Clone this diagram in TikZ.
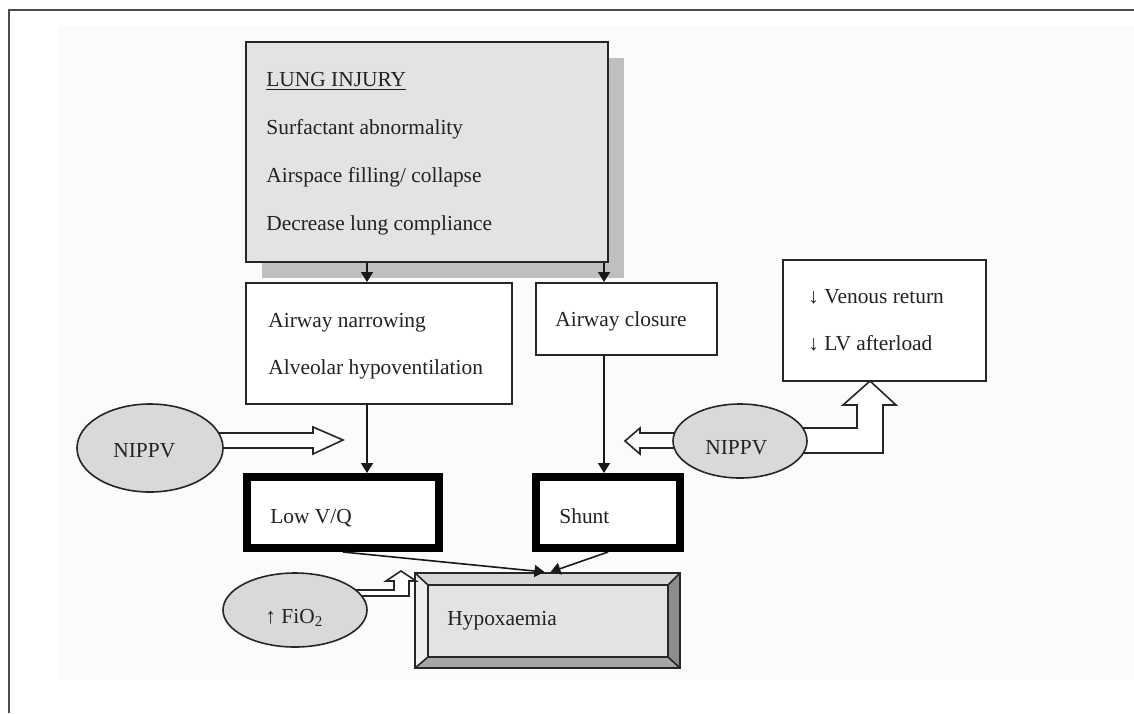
\documentclass[tikz,border=0pt]{standalone}
\usepackage{fontspec}
\setmainfont{Liberation Serif}
\usetikzlibrary{fit,arrows.meta,shapes.geometric}
\definecolor{bgc}{HTML}{FBFBFB}
\definecolor{boxgray}{HTML}{E3E3E3}
\definecolor{shadowgray}{HTML}{BFBFBF}
\definecolor{ellgray}{HTML}{D9D9D9}
\definecolor{txt}{HTML}{222222}
\definecolor{bevtop}{HTML}{D6D6D6}
\definecolor{bevleft}{HTML}{EEEEEE}
\definecolor{bevright}{HTML}{8C8C8C}
\definecolor{bevbot}{HTML}{A6A6A6}
\tikzset{
  every node/.style={font=\fontsize{10.7}{12}\selectfont, text=txt},
  plainbox/.style={draw=black!85, line width=1pt, inner sep=0pt, fill=white},
  thickbox/.style={draw=black, line width=4pt, inner sep=0pt, fill=white},
  lbl/.style={anchor=base west, inner sep=0pt},
  arr/.style={draw=black!90, line width=0.8pt, -{Triangle[length=5pt,width=6pt]}},
  blockarrow/.style={draw=black!85, line width=0.8pt, fill=white},
  ellnode/.style={ellipse, draw=black!85, line width=0.8pt, fill=ellgray, inner sep=0pt},
}
\begin{document}
\begin{tikzpicture}[x=0.5pt,y=-0.5pt]
\useasboundingbox (0,0) rectangle (1134,713);
% background and frame
\fill[bgc] (58,26) rectangle (1134,680);
\draw[black!70, line width=1pt] (9,713) -- (9,10) -- (1134,10);

% lung injury box with shadow
\fill[shadowgray] (262,58) rectangle (624,278);
\node[plainbox, fill=boxgray, fit={(246,42)(608,262)}] (lung) {};
\node[lbl] (t1) at (266,86) {\underline{LUNG INJURY}};
\node[lbl] (t2) at (266,134) {Surfactant abnormality};
\node[lbl] (t3) at (266,182) {Airspace filling/ collapse};
\node[lbl] (t4) at (266,230) {Decrease lung compliance};

% second row
\node[plainbox, fit={(246,283)(512,404)}] (nar) {};
\node[lbl] (t5) at (268,327) {Airway narrowing};
\node[lbl] (t6) at (268,374) {Alveolar hypoventilation};

\node[plainbox, fit={(536,283)(717,355)}] (clo) {};
\node[lbl] (t7) at (555,326) {Airway closure};

\node[plainbox, fit={(783,260)(986,381)}] (ven) {};
\node[lbl] (t8) at (808,303) {↓ Venous return};
\node[lbl] (t9) at (808,350) {↓ LV afterload};

% third row
\node[thickbox, fit={(247,477)(439,548)}] (lvq) {};
\node[lbl] (t10) at (270,523) {Low V/Q};
\node[thickbox, fit={(536,477)(680,548)}] (shunt) {};
\node[lbl] (t11) at (559,523) {Shunt};

% hypoxaemia bevel box
\coordinate (ho1) at (415,573);
\coordinate (ho2) at (680,573);
\coordinate (ho3) at (680,668);
\coordinate (ho4) at (415,668);
\coordinate (hi1) at (428,585);
\coordinate (hi2) at (668,585);
\coordinate (hi3) at (668,657);
\coordinate (hi4) at (428,657);
\fill[bevtop] (ho1) -- (ho2) -- (hi2) -- (hi1) -- cycle;
\fill[bevleft] (ho1) -- (hi1) -- (hi4) -- (ho4) -- cycle;
\fill[bevright] (ho2) -- (ho3) -- (hi3) -- (hi2) -- cycle;
\fill[bevbot] (ho4) -- (hi4) -- (hi3) -- (ho3) -- cycle;
\node[draw=black!85, line width=1pt, fill=boxgray, inner sep=0pt, fit={(hi1)(hi3)}] (hypin) {};
\node[draw=black!85, line width=1pt, inner sep=0pt, fit={(ho1)(ho3)}] (hyp) {};
\draw[black!85, line width=0.8pt] (ho1) -- (hi1) (ho2) -- (hi2) (ho3) -- (hi3) (ho4) -- (hi4);
\node[lbl] (t12) at (447,625) {Hypoxaemia};

% block arrows (under ellipses)
\draw[blockarrow] (212,433) -- (313,433) -- (313,427) -- (343,440) -- (313,454) -- (313,448) -- (212,448) -- cycle;
\draw[blockarrow] (690,433) -- (640,433) -- (640,428) -- (625,441) -- (640,454) -- (640,448) -- (690,448) -- cycle;
\draw[blockarrow] (790,428) -- (857,428) -- (857,405) -- (843,405) -- (870,381) -- (896,405) -- (883,405) -- (883,453) -- (790,453) -- cycle;
\draw[blockarrow] (350,590) -- (394,590) -- (394,581) -- (386,581) -- (401,571) -- (416,581) -- (409,581) -- (409,596) -- (350,596) -- cycle;

% ellipses
\node[ellnode, minimum width=73pt, minimum height=44pt] (nl) at (150,448) {};
\node[lbl] (t13) at (113,457) {NIPPV};
\node[ellnode, minimum width=67pt, minimum height=37pt] (nr) at (740,441) {};
\node[lbl] (t14) at (705,454) {NIPPV};
\node[ellnode, minimum width=72pt, minimum height=37pt] (fio) at (295,610) {};
\node[lbl] (t15) at (265,623) {↑ FiO\textsubscript{2}};

% connectors
\coordinate (xa) at (367,0);
\coordinate (xb) at (604,0);
\draw[arr] (lung.south -| xa) -- (nar.north -| xa);
\draw[arr] (lung.south -| xb) -- (clo.north -| xb);
\draw[arr] (nar.south -| xa) -- (lvq.north -| xa);
\draw[arr] (clo.south -| xb) -- (shunt.north -| xb);
\draw[arr] (lvq.south) -- ([xshift=-1.5pt]hyp.north);
\draw[arr] (shunt.south) -- ([xshift=1.5pt]hyp.north);
\end{tikzpicture}
\end{document}
